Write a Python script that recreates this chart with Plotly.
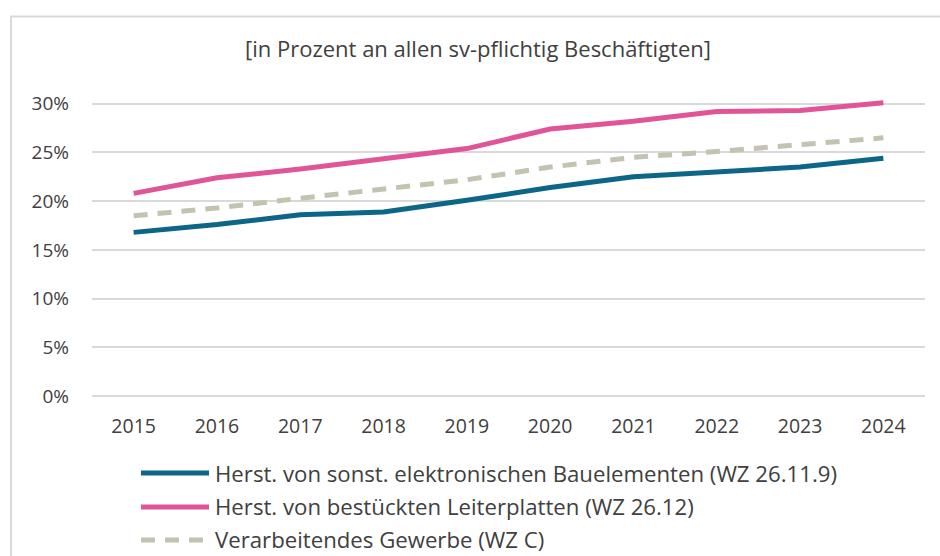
import plotly.graph_objects as go

years = ["2015", "2016", "2017", "2018", "2019", "2020", "2021", "2022", "2023", "2024"]
bauelemente = [16.8, 17.6, 18.6, 18.9, 20.1, 21.4, 22.5, 23.0, 23.5, 24.4]
leiterplatten = [20.8, 22.4, 23.3, 24.4, 25.4, 27.4, 28.2, 29.2, 29.3, 30.1]
verarbeitend = [18.5, 19.3, 20.3, 21.2, 22.2, 23.5, 24.5, 25.1, 25.8, 26.5]

names = [
    "Herst. von sonst. elektronischen Bauelementen (WZ 26.11.9)",
    "Herst. von bestückten Leiterplatten (WZ 26.12)",
    "Verarbeitendes Gewerbe (WZ C)",
]
colors = ["#0B6688", "#DF5598", "#C4C2B0"]
dashes = ["solid", "solid", "14px,10px"]
series = [bauelemente, leiterplatten, verarbeitend]

title_text = "[in Prozent an allen sv-pflichtig Beschäftigten]"
yticks = [0, 5, 10, 15, 20, 25, 30]
yticklabels = ["0%", "5%", "10%", "15%", "20%", "25%", "30%"]

W, H = 940, 556
L, R = 92, 15
Y0_PX = 396.0
PX_PER = 9.757
YMIN, YMAX = -0.4, 31.0
T = Y0_PX - YMAX * PX_PER
B = H - (Y0_PX - YMIN * PX_PER)
PW = W - L - R
PH = H - T - B

def px_x(x):
    return (x - L) / PW

def px_y(y):
    return (H - B - y) / PH

FONT = "Open Sans"
TXT = "#404040"

fig = go.Figure()
for name, vals, c, d in zip(names, series, colors, dashes):
    fig.add_trace(go.Scatter(
        x=years, y=vals, mode="lines", name=name,
        line=dict(color=c, width=5, dash=d),
        showlegend=False,
    ))

shapes = []
annotations = []
# outer frame (only left and top visible in reference)
shapes.append(dict(type="rect", xref="paper", yref="paper",
                   x0=px_x(11), x1=px_x(960), y0=px_y(580), y1=px_y(16),
                   line=dict(color="#D9D9D9", width=2), layer="below"))

annotations.append(dict(text=title_text, xref="paper", yref="paper",
                        x=px_x(478), y=px_y(47), showarrow=False,
                        xanchor="center", yanchor="middle",
                        font=dict(family=FONT, size=22, color=TXT)))

leg_y = [473, 507, 540]
for name, c, d, ly in zip(names, colors, dashes, leg_y):
    shapes.append(dict(type="line", xref="paper", yref="paper",
                       x0=px_x(141), x1=px_x(209), y0=px_y(ly), y1=px_y(ly),
                       line=dict(color=c, width=5, dash=d)))
    annotations.append(dict(text=name, xref="paper", yref="paper",
                            x=px_x(213), y=px_y(ly), showarrow=False,
                            xanchor="left", yanchor="middle",
                            font=dict(family=FONT, size=22.2, color=TXT)))

fig.update_layout(
    width=W, height=H,
    margin=dict(l=L, r=R, t=T, b=B, pad=0),
    paper_bgcolor="white", plot_bgcolor="white",
    font=dict(family=FONT, size=19, color=TXT),
    shapes=shapes, annotations=annotations,
    showlegend=False,
)
fig.update_xaxes(type="category", range=[-0.5, 9.5], showgrid=False,
                 showline=False, zeroline=False, ticks="",
                 ticklabelstandoff=12,
                 tickfont=dict(family=FONT, size=19.5, color=TXT))
fig.update_yaxes(range=[YMIN, YMAX], tickvals=yticks, ticktext=yticklabels,
                 showgrid=True, gridcolor="#D9D9D9", gridwidth=2,
                 zeroline=False, showline=False, ticks="",
                 ticklabelstandoff=22,
                 tickfont=dict(family=FONT, size=19, color=TXT))

fig.write_html("out.html", config={"displayModeBar": False},
               post_script="document.body.style.margin='0px';")
